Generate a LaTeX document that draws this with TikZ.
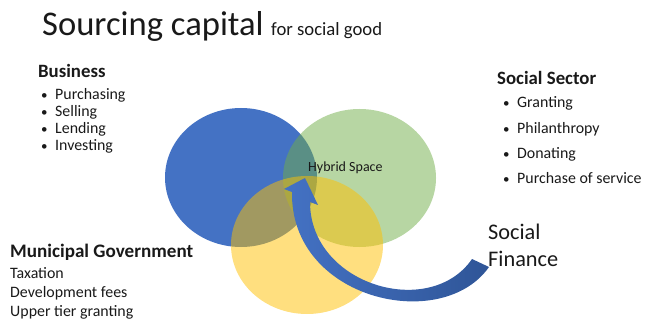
\documentclass[tikz,border=0pt]{standalone}
\usepackage{fontspec}
\setmainfont{Carlito}
\definecolor{cblue}{HTML}{4472C4}
\definecolor{cdblue}{HTML}{2F5597}
\definecolor{cgreen}{HTML}{70AD47}
\definecolor{cyellow}{HTML}{FFC000}
\begin{document}
\begin{tikzpicture}[x=1pt,y=-1pt,
  txt/.style={anchor=base west,inner sep=0pt,text=black!90},
  head/.style={txt,font=\fontsize{18.8}{22}\selectfont\bfseries},
  item/.style={txt,font=\fontsize{15.9}{19}\selectfont},
  bul/.style={txt,font=\fontsize{13}{19}\selectfont}]
\useasboundingbox (0,0) rectangle (655,320);
% ellipses
\fill[cblue] (241,177.5) ellipse [x radius=76, y radius=69.5];
\fill[cgreen,opacity=0.5] (359.5,178) ellipse [x radius=76.5, y radius=69];
\fill[cyellow,opacity=0.5] (307,245) ellipse [x radius=76, y radius=69];
% arrow
\coordinate (tip) at (305,178);
\coordinate (rb) at (318,205);
\coordinate (rs) at (310,202);
\coordinate (ei) at (472,259);
\coordinate (eo) at (489,267);
\coordinate (ls) at (292,192);
\coordinate (lb) at (284,189);
\path[left color=cblue,right color=cdblue]
  (tip) -- (rb) -- (rs) .. controls (310,285) and (430,320) .. (ei) -- (eo)
  .. controls (442,334) and (290,300) .. (ls) -- (lb) -- cycle;
% texts
\node[txt,font=\fontsize{34.6}{40}\selectfont] (title) at (42,36) {Sourcing capital};
\node[txt,font=\fontsize{18.7}{22}\selectfont] (sub) at (271,36) {for social good};
\node[txt,font=\fontsize{14}{16}\selectfont] (hyb) at (308,172) {Hybrid Space};
% business
\node[head] (bus) at (38,78) {Business};
\foreach \t/\y [count=\i] in {Purchasing/100,Selling/117,Lending/134,Investing/151}{
  \node[bul] (bb\i) at (41,\y) {•};
  \node[item] (bi\i) at (55,\y) {\t};
}
% social sector
\node[head] (soc) at (497,85) {Social Sector};
\foreach \t/\y [count=\i] in {Granting/108,Philanthropy/134,Donating/159,Purchase of service/184}{
  \node[bul] (sb\i) at (503,\y) {•};
  \node[item] (si\i) at (517,\y) {\t};
}
% municipal
\node[txt,font=\fontsize{19.1}{22}\selectfont\bfseries] (mun) at (10,257) {Municipal Government};
\node[item] (m1) at (10,278) {Taxation};
\node[item] (m2) at (10,297) {Development fees};
\node[item] (m3) at (10,316) {Upper tier granting};
% social finance
\node[txt,font=\fontsize{22.3}{26}\selectfont] (sf1) at (488,240) {Social};
\node[txt,font=\fontsize{22.3}{26}\selectfont] (sf2) at (488,266) {Finance};
\end{tikzpicture}
\end{document}
